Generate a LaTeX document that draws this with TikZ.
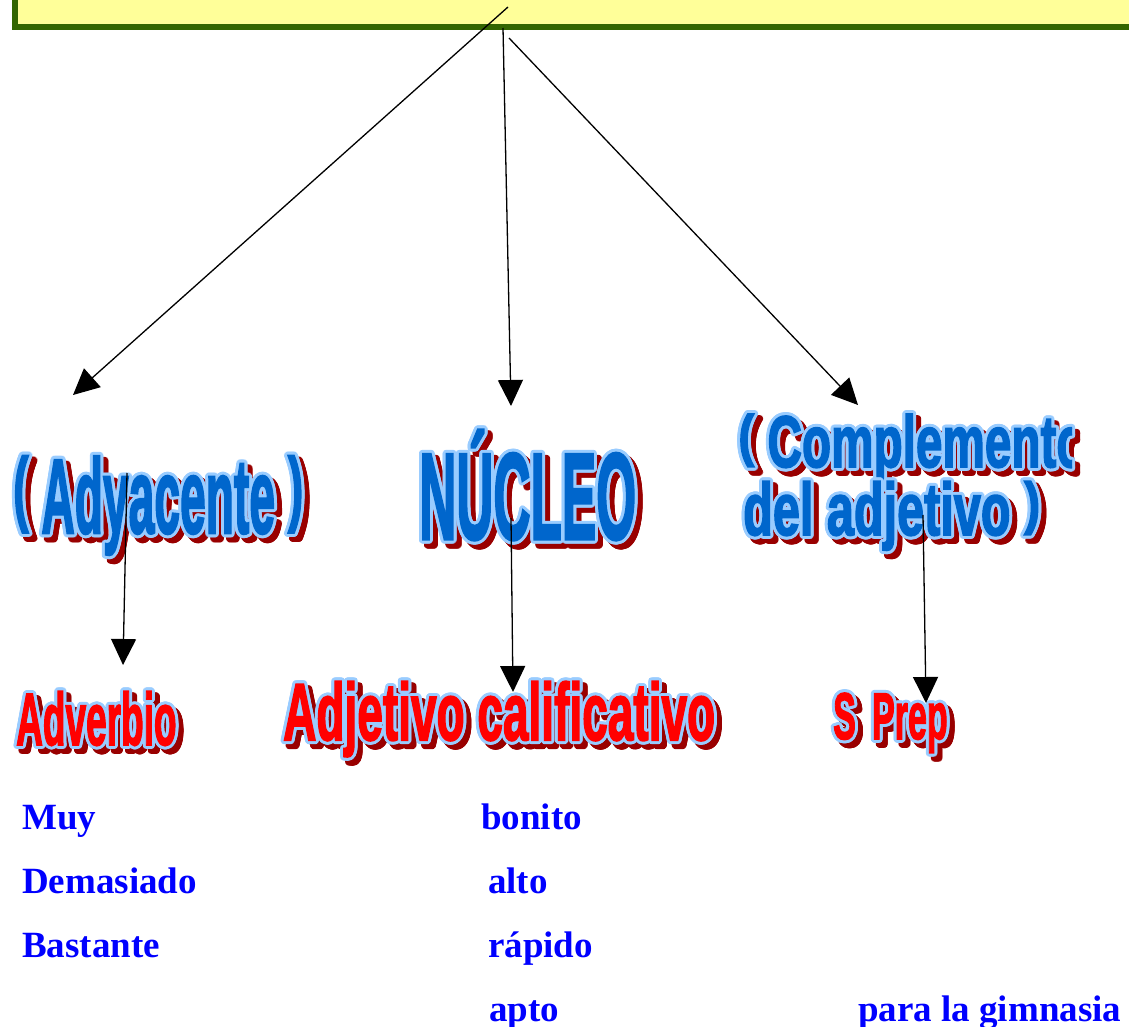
\documentclass[tikz,border=0pt]{standalone}
\usepackage{fontspec}
\setmainfont{Liberation Serif}
\newfontfamily\wafont{Liberation Sans}[BoldFeatures={FakeBold=2.5}]
\usetikzlibrary{arrows.meta}
\definecolor{waBlue}{HTML}{0066CC}
\definecolor{waLight}{HTML}{99CCFF}
\definecolor{waShadow}{HTML}{990000}
\definecolor{waRed}{HTML}{FF0000}
\definecolor{boxYellow}{HTML}{FFFF99}
\definecolor{boxGreen}{HTML}{336600}
\definecolor{txtBlue}{HTML}{0000FF}
\newsavebox\waboxF
\newsavebox\waboxL
\newsavebox\waboxS
\newcommand\wap[1]{\raisebox{0.164em}{\scalebox{1}[0.78]{#1}}}
\newcommand\waput[3]{\rlap{\hspace*{#1pt}\raisebox{#2pt}{\usebox#3}}}
\newcommand\waring[4]{%
  \foreach \waang in {0,22.5,...,337.5}{%
    \pgfmathsetmacro\wadx{#1+#3*cos(\waang)}%
    \pgfmathsetmacro\wady{#2+#3*sin(\waang)}%
    \waput{\wadx}{\wady}{#4}}}
\newcommand\wadraw{%
  \waput{5}{-5}{\waboxS}\waring{5}{-5}{3}{\waboxS}%
  \waring{0}{0}{3}{\waboxL}%
  \usebox\waboxF}
\newcommand\wafmt[4]{{\wafont\bfseries\fontsize{100}{100}\selectfont\scalebox{#1}[#2]{\color{#4}#3}}}
\newcommand\wa[4]{%
  \sbox\waboxF{\wafmt{#2}{#3}{#4}{#1}}%
  \sbox\waboxL{\wafmt{#2}{#3}{#4}{waLight}}%
  \sbox\waboxS{\wafmt{#2}{#3}{#4}{waShadow}}%
  \wadraw}
\newcommand\waclipbox[5]{\tikz[x=1pt,y=1pt,baseline=0pt]{\clip (-5,-60) rectangle (#5,140);
    \node[inner sep=0pt,anchor=base west] at (0,0) {\wafmt{#2}{#3}{#4}{#1}};}}
\newcommand\waclip[5]{%
  \sbox\waboxF{\waclipbox{#1}{#2}{#3}{#4}{#5}}%
  \sbox\waboxL{\waclipbox{waLight}{#2}{#3}{#4}{#5}}%
  \sbox\waboxS{\waclipbox{waShadow}{#2}{#3}{#4}{#5}}%
  \wadraw}
\tikzset{
  wa/.style={inner sep=0pt, anchor=base west},
  plain/.style={inner sep=0pt, anchor=base west, text=txtBlue,
    font=\fontsize{37}{37}\selectfont\bfseries},
  arr/.style={-{Triangle[length=26pt,width=25pt]}, line width=1.3pt, black},
}
\begin{document}
\begin{tikzpicture}[x=1pt,y=-1pt]
\useasboundingbox (0,0) rectangle (1129,1027);
\clip (0,0) rectangle (1129,1027);
\fill[white] (0,0) rectangle (1129,1027);
% top box
\node[draw=boxGreen, fill=boxYellow, line width=6pt, minimum width=1160pt,
  minimum height=80pt, inner sep=0pt, anchor=south west] (box) at (12,30) {};
% word art
\node[wa] (adya) at (13,533) {\wa{waBlue}{0.462}{1.06}{\wap{(} Adyacente \wap{)}}};
\node[wa] (nucleo) at (419,539) {\wa{waBlue}{0.514}{1.23}{NÚCLEO}};
\node[wa] (comp1) at (733,467) {\waclip{waBlue}{0.477}{0.73}{\wap{(} Complemento}{334}};
\node[wa] (comp2) at (743,535) {\wa{waBlue}{0.486}{0.74}{del adjetivo \wap{)}}};
\node[wa] (adverbio) at (16,745) {\wa{waRed}{0.37}{0.74}{Adverbio}};
\node[wa] (adjcal) at (283,740) {\wa{waRed}{0.46}{0.81}{Adjetivo calificativo}};
\node[wa] (sprep) at (833,739) {\wa{waRed}{0.34}{0.66}{S\kern0.2em\ Prep}};
% plain text
\node[plain] (muy) at (22,829) {Muy};
\node[plain] (dem) at (22,893) {Demasiado};
\node[plain] (bas) at (22,957) {Bastante};
\node[plain] (bon) at (481,829) {bonito};
\node[plain] (alto) at (488,893) {alto};
\node[plain] (rap) at (488,957) {rápido};
\node[plain] (apto) at (489,1021) {apto};
\node[plain] (gim) at (858,1021) {para la gimnasia};
% arrows
\coordinate (s1) at (508,7);   \coordinate (t1) at (73,395);
\coordinate (s2) at (503,28);  \coordinate (t2) at (511,406);
\coordinate (s3) at (509,38);  \coordinate (t3) at (858,405);
\coordinate (s4) at (127,473); \coordinate (t4) at (123,665);
\coordinate (s5) at (511,518); \coordinate (t5) at (513,692);
\coordinate (s6) at (923,515); \coordinate (t6) at (926,703);
\draw[arr] (s1) -- (t1);
\draw[arr] (s2) -- (t2);
\draw[arr] (s3) -- (t3);
\draw[arr] (s4) -- (t4);
\draw[arr] (s5) -- (t5);
\draw[arr] (s6) -- (t6);
\end{tikzpicture}
\end{document}
